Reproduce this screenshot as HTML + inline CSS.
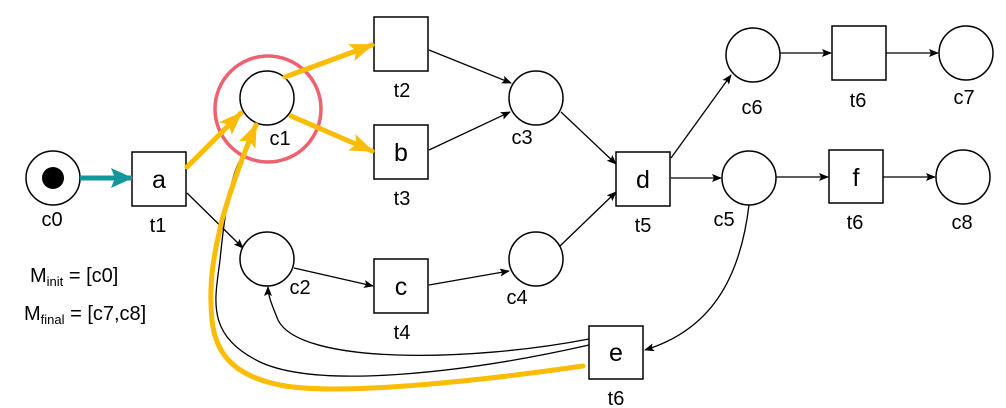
<!DOCTYPE html>
<html><head><meta charset="utf-8"><style>
html,body{margin:0;padding:0;background:#fff;}
svg{display:block;font-family:"Liberation Sans",Arial,sans-serif;}
</style></head><body>
<svg width="1006" height="408" viewBox="0 0 1006 408" xmlns="http://www.w3.org/2000/svg">
<defs>
<marker id="a" markerWidth="10" markerHeight="8" refX="9" refY="4" orient="auto" markerUnits="userSpaceOnUse"><path d="M0,0 L10,4 L0,8 L2,4 z" fill="#000"/></marker>
<marker id="y" markerWidth="24" markerHeight="18" refX="22" refY="9" orient="auto" markerUnits="userSpaceOnUse"><path d="M0,0 L24,9 L0,18 L5,9 z" fill="#fbbc05"/></marker>
<marker id="t" markerWidth="22" markerHeight="20" refX="21" refY="10" orient="auto" markerUnits="userSpaceOnUse"><path d="M0,0 L22,10 L0,20 L4,10 z" fill="#14979a"/></marker>
</defs>
<g fill="none" stroke="#000" stroke-width="1.3">
<line x1="187" y1="193" x2="243" y2="248" marker-end="url(#a)"/>
<line x1="294" y1="268" x2="373" y2="286" marker-end="url(#a)"/>
<line x1="429" y1="50" x2="511" y2="83" marker-end="url(#a)"/>
<line x1="429" y1="150" x2="510" y2="112" marker-end="url(#a)"/>
<line x1="429" y1="285" x2="509" y2="271" marker-end="url(#a)"/>
<line x1="561" y1="112" x2="616" y2="164" marker-end="url(#a)"/>
<line x1="560" y1="246" x2="616" y2="192" marker-end="url(#a)"/>
<line x1="671" y1="158" x2="731" y2="75" marker-end="url(#a)"/>
<line x1="671" y1="178" x2="721" y2="178" marker-end="url(#a)"/>
<line x1="780" y1="53" x2="831" y2="53" marker-end="url(#a)"/>
<line x1="886" y1="53" x2="938" y2="53" marker-end="url(#a)"/>
<line x1="776" y1="177" x2="828" y2="177" marker-end="url(#a)"/>
<line x1="882" y1="177" x2="935" y2="177" marker-end="url(#a)"/>
<path d="M749,205 C740,280 710,330 645,350" marker-end="url(#a)"/>
<path d="M589,339 C470,362 300,365 278,320 C272,305 268,296 268,287" marker-end="url(#a)"/>
<path d="M589,345 C470,372 320,390 260,362 C205,335 215,300 220,260 C225,210 230,180 240,160"/>
</g>
<g fill="#fff" stroke="#000" stroke-width="1.5">
<circle cx="53" cy="178" r="27"/>
<circle cx="267" cy="98" r="27"/>
<circle cx="267" cy="259" r="27"/>
<circle cx="536" cy="98" r="27"/>
<circle cx="536" cy="259" r="27"/>
<circle cx="753" cy="55" r="27"/>
<circle cx="749" cy="178" r="27"/>
<circle cx="966" cy="53" r="27"/>
<circle cx="963" cy="177" r="27"/>
<rect x="132" y="152" width="54" height="54"/>
<rect x="374" y="17" width="54" height="54"/>
<rect x="374" y="125" width="54" height="54"/>
<rect x="374" y="259" width="54" height="54"/>
<rect x="616" y="152" width="54" height="54"/>
<rect x="832" y="26" width="54" height="54"/>
<rect x="829" y="150" width="54" height="53"/>
<rect x="589" y="326" width="54" height="53"/>
</g>
<circle cx="53" cy="178" r="11" fill="#000"/>
<circle cx="268" cy="109" r="53" fill="none" stroke="#f0606e" stroke-width="3.5"/>
<line x1="80" y1="178" x2="132" y2="178" stroke="#14979a" stroke-width="5" marker-end="url(#t)"/>
<g stroke="#fbbc05" stroke-width="5" fill="none" stroke-linecap="round">
<line x1="187" y1="167" x2="241" y2="113" marker-end="url(#y)"/>
<line x1="285" y1="77" x2="372" y2="45" marker-end="url(#y)"/>
<line x1="291" y1="116" x2="372" y2="151" marker-end="url(#y)"/>
<path d="M583,366 C450,385 330,395 280,385 C230,375 215,350 212,320 C208,280 215,250 222,220 C232,185 245,150 256,125" marker-end="url(#y)"/>
</g>
<g font-size="25" text-anchor="middle">
<text x="159" y="188">a</text>
<text x="401" y="161">b</text>
<text x="401" y="295">c</text>
<text x="643" y="188">d</text>
<text x="856" y="186">f</text>
<text x="616" y="361">e</text>
</g>
<g font-size="20" text-anchor="middle">
<text x="52" y="226">c0</text>
<text x="158" y="232">t1</text>
<text x="280" y="145">c1</text>
<text x="300" y="294">c2</text>
<text x="402" y="97">t2</text>
<text x="402" y="205">t3</text>
<text x="402" y="339">t4</text>
<text x="522" y="144">c3</text>
<text x="517" y="304">c4</text>
<text x="643" y="232">t5</text>
<text x="724" y="226">c5</text>
<text x="752" y="114">c6</text>
<text x="858" y="107">t6</text>
<text x="964" y="104">c7</text>
<text x="855" y="229">t6</text>
<text x="962" y="229">c8</text>
<text x="616" y="405">t6</text>
</g>
<g font-size="20">
<text x="30" y="282">M<tspan font-size="13" dy="4">init</tspan><tspan dy="-4"> = [c0]</tspan></text>
<text x="24" y="320">M<tspan font-size="13" dy="4">final</tspan><tspan dy="-4"> = [c7,c8]</tspan></text>
</g>
</svg>
</body></html>
